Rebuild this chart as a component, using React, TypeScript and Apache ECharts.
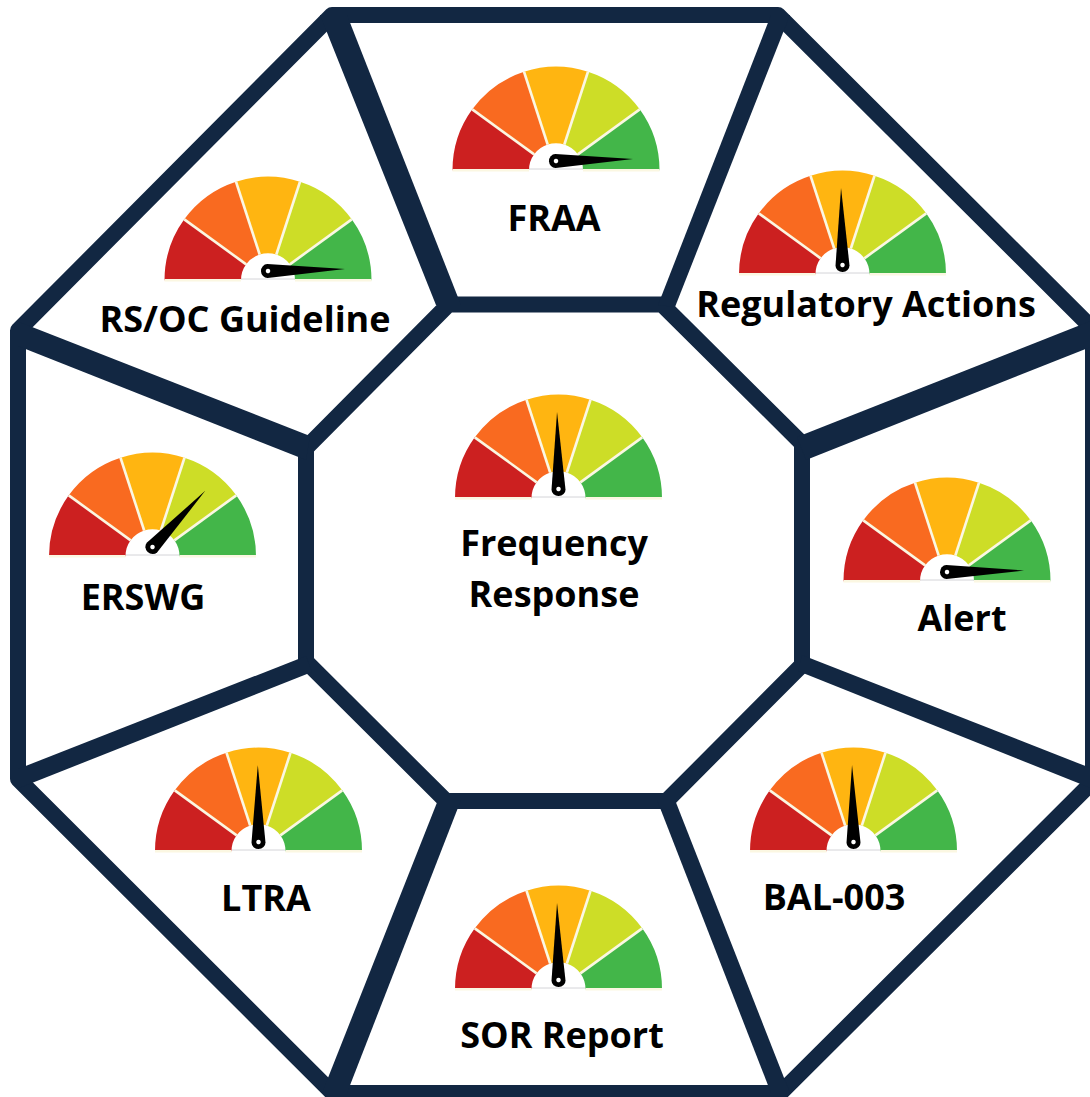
import React, { useEffect, useRef } from "react";
import * as echarts from "echarts";

// Panel names and where each needle sits on a 0-100 scale.
const panelNames = [
  "FRAA",
  "RS/OC Guideline",
  "Regulatory Actions",
  "Frequency\nResponse",
  "ERSWG",
  "Alert",
  "LTRA",
  "BAL-003",
  "SOR Report",
];
const needleValues = [99.2, 99.2, 49.4, 49.4, 74, 99.4, 49.7, 49.4, 49.4];

// Five equal bands, red through green.
const bandColors = ["#CC2020", "#F96A20", "#FFB511", "#CDDD27", "#43B649"];
const bandStops = [0.2, 0.4, 0.6, 0.8, 1];

// Page layout, in pixels.
const WIDTH = 1090;
const HEIGHT = 1097;
const NAVY = "#122742";
const gaugeCenters = [
  [556, 169],
  [268, 279],
  [842.5, 273],
  [558.5, 497],
  [152.5, 555],
  [947, 580],
  [258.5, 850],
  [853.5, 850],
  [558.5, 988],
];
const labelCenters = [
  [554, 217],
  [245, 318],
  [866, 303],
  [554, 568],
  [143, 596],
  [962, 617],
  [266, 897],
  [834, 896],
  [562, 1034],
];
const GAUGE_RADIUS = 103.5;
const HUB_RADIUS = 27;
const PIVOT_LIFT = 8;
const NEEDLE_ICON = "path://M6 0 L12 72 A6 6 0 0 1 0 72 Z";

const outerRing = [
  [332, 15], [778, 15], [1093, 329], [1093, 781.5],
  [780.5, 1093], [332.5, 1093], [18, 779], [18, 330.5],
];
const innerRing = [
  [448.5, 304.5], [662, 304.5], [802, 443.5], [802, 665],
  [666.5, 801], [446, 801], [306, 661.5], [306, 448],
];
const spokes = [
  [[320, 15], [347, 15], [461, 305], [436, 305]],
  [[771, 15], [790, 15], [675, 307], [658, 305]],
  [[797, 437], [1093, 320], [1093, 346], [806, 460]],
  [[802, 655], [1093, 769], [1093, 789], [798, 671]],
  [[657, 800], [675, 800], [790, 1093], [771, 1093]],
  [[438, 800], [461, 800], [347, 1093], [322, 1093]],
  [[18, 769], [306, 656], [312, 672], [18, 788.5]],
  [[18, 321.5], [310, 436], [306, 460], [18, 346]],
];

function bandSeries(center: number[], value: number) {
  const thickness = GAUGE_RADIUS - HUB_RADIUS;
  return {
    type: "gauge",
    silent: true,
    center: [center[0], center[1] + 1.2],
    radius: GAUGE_RADIUS,
    startAngle: 180,
    endAngle: 0,
    min: 0,
    max: 100,
    splitNumber: 5,
    axisLine: {
      lineStyle: {
        width: thickness,
        color: bandStops.map((stop, i) => [stop, bandColors[i]]),
      },
    },
    splitLine: {
      show: true,
      length: thickness,
      distance: -thickness,
      lineStyle: { color: "#FBF7E2", width: 2.6 },
    },
    axisTick: { show: false },
    axisLabel: { show: false },
    pointer: { show: false },
    anchor: { show: false },
    title: { show: false },
    detail: { show: false },
    data: [{ value }],
  };
}

function needleSeries(center: number[], value: number) {
  return {
    type: "gauge",
    silent: true,
    z: 5,
    center: [center[0], center[1] - PIVOT_LIFT],
    radius: GAUGE_RADIUS,
    startAngle: 180,
    endAngle: 0,
    min: 0,
    max: 100,
    axisLine: { show: false },
    splitLine: { show: false },
    axisTick: { show: false },
    axisLabel: { show: false },
    pointer: {
      show: true,
      icon: NEEDLE_ICON,
      width: 14,
      length: 84,
      offsetCenter: [0, 7],
      itemStyle: { color: "#000000" },
    },
    anchor: {
      show: true,
      showAbove: true,
      size: 4.5,
      icon: "circle",
      itemStyle: { color: "#FFFFFF", borderWidth: 0 },
    },
    title: { show: false },
    detail: { show: false },
    data: [{ value }],
  };
}

export default function App() {
  const ref = useRef<HTMLDivElement>(null);

  useEffect(() => {
    document.body.style.margin = "0";
    const chart = echarts.init(ref.current!, null, { renderer: "svg" });

    const frame = [
      ...[outerRing, innerRing].map((points) => ({
        type: "polygon",
        silent: true,
        shape: { points },
        style: { fill: "none", stroke: NAVY, lineWidth: 16, lineJoin: "round" },
      })),
      ...spokes.map((points) => ({
        type: "polygon",
        silent: true,
        shape: { points },
        style: { fill: NAVY },
      })),
    ];

    const hubLines = gaugeCenters.map(([x, y]) => ({
      type: "line",
      silent: true,
      shape: { x1: x - HUB_RADIUS, y1: y, x2: x + HUB_RADIUS, y2: y },
      style: { stroke: "#D4D4D8", lineWidth: 1 },
    }));

    const labels = panelNames.map((name, i) => ({
      type: "text",
      silent: true,
      x: labelCenters[i][0],
      y: labelCenters[i][1],
      style: {
        text: name,
        fill: "#000000",
        font: 'bold 36px "Open Sans", Lato, sans-serif',
        lineHeight: 51,
        align: "center",
        verticalAlign: "middle",
      },
    }));

    chart.setOption({
      animation: false,
      backgroundColor: "#FFFFFF",
      graphic: [...frame, ...hubLines, ...labels],
      series: gaugeCenters.flatMap((center, i) => [
        bandSeries(center, needleValues[i]),
        needleSeries(center, needleValues[i]),
      ]),
    });

    return () => chart.dispose();
  }, []);

  return <div ref={ref} style={{ width: WIDTH, height: HEIGHT }} />;
}
